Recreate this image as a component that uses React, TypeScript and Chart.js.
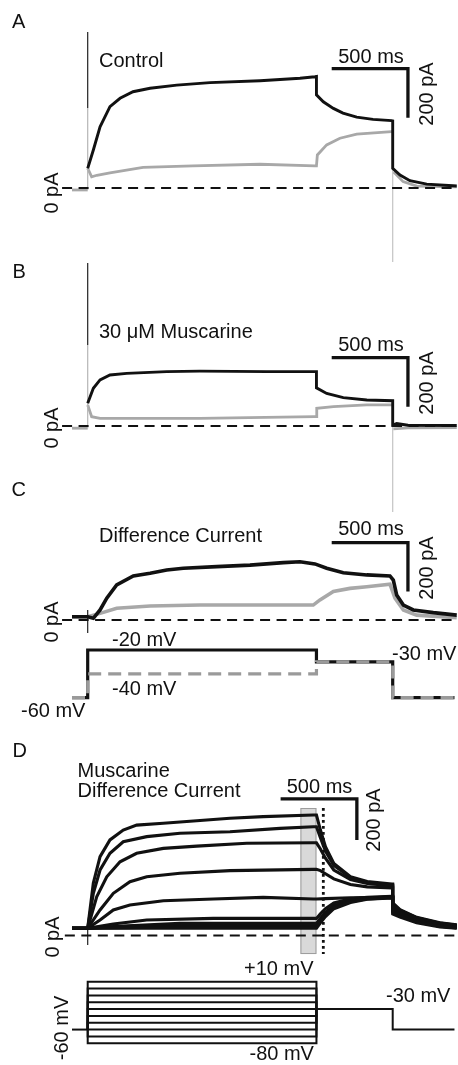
import React, { useEffect, useRef } from "react";
import { Chart, registerables } from "chart.js";

Chart.register(...registerables);

// ---------------- DATA (time in ms, current in pA, voltage in mV) ----------------
// Panel A – Control. Black: step to -20 mV, gray: step to -40 mV
const CONTROL_20MV: [number, number][] = [
  [0, 80], [37, 155], [81, 250], [146, 332], [212, 366], [297, 393], [409, 407], [584, 420],
  [802, 430], [1130, 438], [1392, 448], [1490, 454], [1500, 455], [1500, 380], [1545, 352],
  [1611, 325], [1674, 306], [1764, 289], [1871, 280], [1993, 275], [2000, 274], [2000, 80],
  [2048, 53], [2113, 30], [2223, 16], [2395, 9], [2420, 8],
];
const CONTROL_40MV: [number, number][] = [
  [0, 80], [26, 46], [60, 52], [146, 62], [363, 84], [690, 90], [1130, 97], [1490, 90],
  [1500, 90], [1506, 135], [1567, 176], [1654, 203], [1764, 220], [1993, 230], [2000, 230],
];
const CONTROL_40MV_TAIL: [number, number][] = [
  [2004, 65], [2015, 60], [2068, 26], [2157, 8], [2395, 5], [2420, 5],
];
const CONTROL_HOLD: [number, number][] = [[-103, -8], [0, -8]];
const CONTROL_ON_ARTIFACT: [number, number][] = [[0, 637], [0, 327]];
const CONTROL_ON_ARTIFACT_GRAY: [number, number][] = [[0, 327], [0, -8]];
const CONTROL_OFF_ARTIFACT: [number, number][] = [[2000, 230], [2000, -302]];

// Panel B – 30 µM muscarine
const MUSC_20MV: [number, number][] = [
  [0, 93], [37, 154], [81, 188], [146, 208], [256, 215], [518, 222], [736, 224], [1174, 222],
  [1490, 222], [1500, 222], [1500, 156], [1567, 133], [1676, 116], [1830, 106], [2000, 103],
  [2000, 4], [2026, 10], [2100, 3], [2420, 2],
];
const MUSC_40MV: [number, number][] = [
  [0, 86], [26, 38], [81, 31], [736, 31], [1490, 38], [1500, 38], [1502, 72], [1611, 79],
  [1830, 86], [2000, 86],
];
const MUSC_40MV_TAIL: [number, number][] = [[2004, -12], [2100, -8], [2420, -7]];
const MUSC_HOLD: [number, number][] = [[-103, -9], [0, -9]];
const MUSC_ON_ARTIFACT: [number, number][] = [[0, 665], [0, 331]];
const MUSC_ON_ARTIFACT_GRAY: [number, number][] = [[0, 331], [0, -9]];
const MUSC_OFF_ARTIFACT: [number, number][] = [[2000, 86], [2000, -351]];

// Panel C – difference current
const DIFF_20MV: [number, number][] = [
  [-103, 13], [0, 13], [37, 7], [81, 41], [125, 89], [190, 143], [299, 180], [409, 191],
  [518, 204], [627, 211], [846, 218], [1064, 224], [1283, 234], [1392, 238], [1490, 229],
  [1567, 211], [1676, 193], [1830, 184], [1982, 180], [2004, 163], [2026, 102], [2070, 61],
  [2135, 41], [2266, 30], [2420, 20],
];
const DIFF_40MV: [number, number][] = [
  [-103, 13], [0, 13], [81, 27], [190, 48], [409, 57], [736, 61], [1174, 61], [1479, 61],
  [1523, 82], [1611, 116], [1720, 129], [1830, 136], [1982, 146], [2015, 89], [2070, 41],
  [2157, 20], [2420, 9],
];
const DIFF_ON_ARTIFACT: [number, number][] = [[0, 41], [0, -53]];

// Protocols
const PROTOCOL_TIMES = [-103, 0, 1500, 2000, 2405];
const HOLD_MV = -60;
const TAIL_MV = -30;
const STEPS_C_MV = [-20, -40];
const STEPS_D_MV = [10, 0, -10, -20, -30, -40, -50, -60, -70, -80];

// Panel D – muscarine difference current, steps +10 … -80 mV
const D_P10: [number, number][] = [
  [-103, 35], [0, 35], [37, 255], [81, 383], [146, 464], [233, 512], [321, 536], [496, 545],
  [715, 557], [933, 569], [1151, 577], [1479, 585], [1500, 585], [1526, 512], [1559, 431],
  [1614, 350], [1723, 285], [1833, 262], [1995, 250], [2000, 250], [2000, 158], [2048, 125],
  [2157, 88], [2310, 62], [2420, 52],
];
const D_0: [number, number][] = [
  [-103, 35], [0, 35], [37, 205], [81, 318], [146, 399], [233, 455], [387, 480], [605, 496],
  [933, 504], [1261, 520], [1479, 528], [1500, 528], [1526, 475], [1559, 410], [1614, 340],
  [1723, 282], [1833, 258], [1995, 245], [2000, 245], [2000, 154], [2048, 122], [2157, 86],
  [2310, 60], [2420, 50],
];
const D_M10: [number, number][] = [
  [-103, 35], [0, 35], [59, 188], [125, 285], [212, 358], [321, 399], [496, 423], [715, 434],
  [1043, 448], [1479, 450], [1500, 450], [1526, 420], [1559, 375], [1614, 318], [1723, 272],
  [1833, 252], [1995, 240], [2000, 240], [2000, 150], [2048, 119], [2157, 84], [2310, 58],
  [2420, 48],
];
const D_M20: [number, number][] = [
  [-103, 35], [0, 35], [81, 124], [168, 205], [277, 261], [387, 285], [605, 302], [933, 315],
  [1479, 321], [1500, 321], [1526, 315], [1559, 300], [1614, 275], [1723, 248], [1833, 236],
  [1995, 231], [2000, 231], [2000, 145], [2048, 115], [2157, 82], [2310, 57], [2420, 47],
];
const D_M30: [number, number][] = [
  [-103, 35], [0, 35], [81, 75], [168, 124], [277, 148], [496, 169], [824, 177], [1151, 185],
  [1479, 177], [1500, 177], [1559, 179], [1723, 183], [1995, 186], [2000, 186], [2000, 138],
  [2048, 111], [2157, 79], [2310, 55], [2420, 45],
];
const D_M40: [number, number][] = [
  [-103, 35], [0, 35], [168, 56], [387, 75], [824, 83], [1479, 83], [1500, 83], [1526, 105],
  [1559, 130], [1614, 158], [1723, 178], [1833, 186], [1995, 190], [2000, 190], [2000, 130],
  [2048, 106], [2157, 75], [2310, 52], [2420, 43],
];
const D_M50: [number, number][] = [
  [-103, 35], [0, 35], [168, 43], [605, 59], [1479, 59], [1500, 59], [1526, 84], [1559, 112],
  [1614, 145], [1723, 170], [1833, 182], [1995, 188], [2000, 188], [2000, 125], [2048, 102],
  [2157, 72], [2310, 50], [2420, 41],
];
const D_M60: [number, number][] = [
  [-103, 35], [0, 35], [300, 46], [1479, 49], [1500, 49], [1526, 75], [1559, 104], [1614, 140],
  [1723, 167], [1833, 180], [1995, 186], [2000, 186], [2000, 118], [2048, 98], [2157, 69],
  [2310, 47], [2420, 39],
];
const D_M70: [number, number][] = [
  [-103, 35], [0, 35], [600, 42], [1479, 42], [1500, 42], [1526, 68], [1559, 98], [1614, 135],
  [1723, 164], [1833, 178], [1995, 184], [2000, 184], [2000, 112], [2048, 94], [2157, 66],
  [2310, 45], [2420, 37],
];
const D_M80: [number, number][] = [
  [-103, 35], [0, 35], [1479, 35], [1500, 35], [1526, 62], [1559, 92], [1614, 130], [1723, 160],
  [1833, 176], [1995, 182], [2000, 182], [2000, 105], [2048, 90], [2157, 62], [2310, 42],
  [2420, 35],
];
const D_ON_ARTIFACT: [number, number][] = [[0, 61], [0, -46]];
const D_WINDOW_MS = [1395, 1500];
const D_WINDOW_PA = [-90, 619];
const D_MARKER_MS = 1545;

// Zero-current reference range per panel (ms)
const ZERO_ABC_MS = [-168, 2430];
const ZERO_D_MS = [-150, 2410];

// Scale bars: corner [ms, pA], size 500 ms × 200 pA
const SCALE_MS = 500;
const SCALE_PA = 200;
const SCALE_A: [number, number] = [2100, 487];
const SCALE_B: [number, number] = [2100, 279];
const SCALE_C: [number, number] = [2100, 316];
const SCALE_D: [number, number] = [1765, 663];

// ---------------- LAYOUT ----------------
const W = 458;
const H = 1065;
const STEP_ON_PX = 87.7;
const PX_PER_MS = 0.1525;

function yRange(zeroPx: number, pxPerUnit: number, ref = 0) {
  return { min: ref - (H - zeroPx) / pxPerUnit, max: ref + zeroPx / pxPerUnit };
}

const FONT = '20px "Liberation Sans", Arial, Helvetica, sans-serif';
const INK = "#111111";
const GRAY = "#a8a8a8";

type Label = { t: string; x: number; y: number; rot?: boolean; center?: boolean };
const LABELS: Label[] = [
  { t: "A", x: 12, y: 28 },
  { t: "Control", x: 99, y: 66.5 },
  { t: "500 ms", x: 371, y: 62.5, center: true },
  { t: "200 pA", x: 433, y: 94, rot: true },
  { t: "0 pA", x: 58, y: 193, rot: true },
  { t: "B", x: 12.5, y: 278 },
  { t: "30 \u03bcM Muscarine", x: 99, y: 338 },
  { t: "500 ms", x: 371, y: 351, center: true },
  { t: "200 pA", x: 433, y: 383, rot: true },
  { t: "0 pA", x: 58, y: 428, rot: true },
  { t: "C", x: 11.5, y: 495.5 },
  { t: "Difference Current", x: 99, y: 541.5 },
  { t: "500 ms", x: 371, y: 535, center: true },
  { t: "200 pA", x: 433, y: 568, rot: true },
  { t: "0 pA", x: 58, y: 622, rot: true },
  { t: "-20 mV", x: 112, y: 645.5 },
  { t: "-40 mV", x: 112, y: 694.5 },
  { t: "-30 mV", x: 392, y: 660 },
  { t: "-60 mV", x: 21, y: 717 },
  { t: "D", x: 12.5, y: 756.5 },
  { t: "Muscarine", x: 77.5, y: 776.5 },
  { t: "Difference Current", x: 77.5, y: 796.5 },
  { t: "500 ms", x: 319.5, y: 792.5, center: true },
  { t: "200 pA", x: 380, y: 820, rot: true },
  { t: "0 pA", x: 59, y: 937, rot: true },
  { t: "+10 mV", x: 244, y: 974.5 },
  { t: "-30 mV", x: 386, y: 1001.5 },
  { t: "-80 mV", x: 249.5, y: 1060 },
  { t: "-60 mV", x: 68, y: 1028, rot: true },
];

function protocolPath(step: number): [number, number][] {
  const [t0, t1, t2, t3, t4] = PROTOCOL_TIMES;
  return [
    [t0, HOLD_MV], [t1, HOLD_MV], [t1, step], [t2, step], [t2, TAIL_MV],
    [t3, TAIL_MV], [t3, HOLD_MV], [t4, HOLD_MV],
  ];
}
// pieces of the family protocol, so the shared segments are drawn only once
function stepOnly(step: number): [number, number][] {
  const [, t1, t2] = PROTOCOL_TIMES;
  return [[t1, HOLD_MV], [t1, step], [t2, step], [t2, TAIL_MV]];
}
function holdBefore(): [number, number][] {
  const [t0, t1] = PROTOCOL_TIMES;
  return [[t0, HOLD_MV], [t1, HOLD_MV]];
}
function tailAfter(): [number, number][] {
  const [, , t2, t3, t4] = PROTOCOL_TIMES;
  return [[t2, TAIL_MV], [t3, TAIL_MV], [t3, HOLD_MV], [t4, HOLD_MV]];
}

function scaleBar([t, v]: [number, number]): [number, number][] {
  return [[t - SCALE_MS, v], [t, v], [t, v - SCALE_PA]];
}

function line(pts: [number, number][], yAxisID: string, color: string, width: number, extra: any = {}) {
  return {
    data: pts.map(([x, y]) => ({ x, y })),
    xAxisID: "x",
    yAxisID,
    borderColor: color,
    borderWidth: width,
    pointRadius: 0,
    pointHoverRadius: 0,
    tension: 0,
    fill: false,
    clip: false,
    borderJoinStyle: "miter",
    borderCapStyle: "butt",
    ...extra,
  };
}

const overlayPlugin = {
  id: "overlay",
  beforeDatasetsDraw(chart: any) {
    const { ctx, scales } = chart;
    const x0 = scales.x.getPixelForValue(D_WINDOW_MS[0]);
    const x1 = scales.x.getPixelForValue(D_WINDOW_MS[1]);
    const y0 = scales.yD.getPixelForValue(D_WINDOW_PA[1]);
    const y1 = scales.yD.getPixelForValue(D_WINDOW_PA[0]);
    ctx.save();
    ctx.fillStyle = "#d9d9d9";
    ctx.strokeStyle = "#9c9c9c";
    ctx.lineWidth = 1;
    ctx.fillRect(x0, y0, x1 - x0, y1 - y0);
    ctx.strokeRect(x0 + 0.5, y0 + 0.5, x1 - x0 - 1, y1 - y0 - 1);
    ctx.restore();
  },
  afterDatasetsDraw(chart: any) {
    const { ctx } = chart;
    ctx.save();
    ctx.font = FONT;
    ctx.fillStyle = INK;
    ctx.textBaseline = "alphabetic";
    for (const l of LABELS) {
      if (l.rot) {
        ctx.save();
        ctx.translate(l.x, l.y);
        ctx.rotate(-Math.PI / 2);
        ctx.textAlign = "center";
        ctx.fillText(l.t, 0, 0);
        ctx.restore();
      } else {
        ctx.textAlign = l.center ? "center" : "left";
        ctx.fillText(l.t, l.x, l.y);
      }
    }
    ctx.restore();
  },
};

export default function App() {
  const ref = useRef<HTMLCanvasElement | null>(null);

  useEffect(() => {
    if (!ref.current) return;
    const dTraces = [D_P10, D_0, D_M10, D_M20, D_M30, D_M40, D_M50, D_M60, D_M70, D_M80];
    const zeroLine = (r: number[], axis: string) =>
      line([[r[0], 0], [r[1], 0]], axis, INK, 1.8, { borderDash: [10, 6.5] });

    const list: any[] = [
      // gray traces
      line(CONTROL_HOLD, "yA", GRAY, 2.8),
      line(CONTROL_40MV, "yA", GRAY, 2.8),
      line(CONTROL_40MV_TAIL, "yA", GRAY, 2.8),
      line(MUSC_HOLD, "yB", GRAY, 2.8),
      line(MUSC_40MV, "yB", GRAY, 2.8),
      line(MUSC_40MV_TAIL, "yB", GRAY, 2.8),
      line(DIFF_40MV, "yC", GRAY, 3.6),
      // artifacts
      line(CONTROL_ON_ARTIFACT_GRAY, "yA", "#b5b5b5", 1.2),
      line(CONTROL_OFF_ARTIFACT, "yA", "#c4c4c4", 1.2),
      line(CONTROL_ON_ARTIFACT, "yA", "#222222", 1.2),
      line(MUSC_ON_ARTIFACT_GRAY, "yB", "#b5b5b5", 1.2),
      line(MUSC_OFF_ARTIFACT, "yB", "#c4c4c4", 1.2),
      line(MUSC_ON_ARTIFACT, "yB", "#222222", 1.2),
      line(DIFF_ON_ARTIFACT, "yC", "#222222", 1.2),
      line(D_ON_ARTIFACT, "yD", "#222222", 1.2),
      // black traces
      line(CONTROL_20MV, "yA", INK, 2.9),
      line(MUSC_20MV, "yB", INK, 2.9),
      line(DIFF_20MV, "yC", INK, 3.6),
      // protocol C
      line(protocolPath(STEPS_C_MV[0]), "yCv", INK, 3.2),
      line(protocolPath(STEPS_C_MV[1]), "yCv", "#9a9a9a", 3.2, { borderDash: [13, 7] }),
      // D traces
      ...dTraces.map((tr) => line(tr, "yD", INK, 3.1)),
      // protocol D
      line(holdBefore(), "yDv", INK, 2),
      ...STEPS_D_MV.map((v) => line(stepOnly(v), "yDv", INK, 2)),
      line(tailAfter(), "yDv", INK, 2),
      // scale bars
      line(scaleBar(SCALE_A), "yA", INK, 3.3),
      line(scaleBar(SCALE_B), "yB", INK, 3.3),
      line(scaleBar(SCALE_C), "yC", INK, 3.3),
      line(scaleBar(SCALE_D), "yD", INK, 3.3),
      // zero lines
      zeroLine(ZERO_ABC_MS, "yA"),
      zeroLine(ZERO_ABC_MS, "yB"),
      zeroLine(ZERO_ABC_MS, "yC"),
      zeroLine(ZERO_D_MS, "yD"),
      // dotted marker
      line([[D_MARKER_MS, D_WINDOW_PA[1]], [D_MARKER_MS, D_WINDOW_PA[0]]], "yD", INK, 2.8, {
        borderDash: [2.8, 3.2],
      }),
    ];
    list.forEach((d, i) => (d.order = -i));

    const lin = (r: { min: number; max: number }) => ({
      type: "linear",
      display: false,
      min: r.min,
      max: r.max,
      bounds: "data",
      grace: 0,
    });

    const chart = new Chart(ref.current, {
      type: "line",
      data: { datasets: list },
      options: {
        animation: false,
        responsive: false,
        maintainAspectRatio: false,
        devicePixelRatio: 1,
        events: [],
        layout: { padding: 0 },
        plugins: {
          legend: { display: false },
          tooltip: { enabled: false },
          title: { display: false },
        },
        scales: {
          x: lin({ min: -STEP_ON_PX / PX_PER_MS, max: (W - STEP_ON_PX) / PX_PER_MS }),
          yA: lin(yRange(188, 0.245)),
          yB: lin(yRange(426, 0.245)),
          yC: lin(yRange(620, 0.245)),
          yCv: lin(yRange(650, 1.19, -20)),
          yD: lin(yRange(935.5, 0.206)),
          yDv: lin(yRange(981.7, 0.684, 10)),
        },
      } as any,
      plugins: [overlayPlugin],
    });
    return () => chart.destroy();
  }, []);

  return (
    <div style={{ position: "fixed", left: 0, top: 0, width: W, height: H, background: "#fff" }}>
      <canvas ref={ref} width={W} height={H} style={{ display: "block", width: W, height: H }} />
    </div>
  );
}
